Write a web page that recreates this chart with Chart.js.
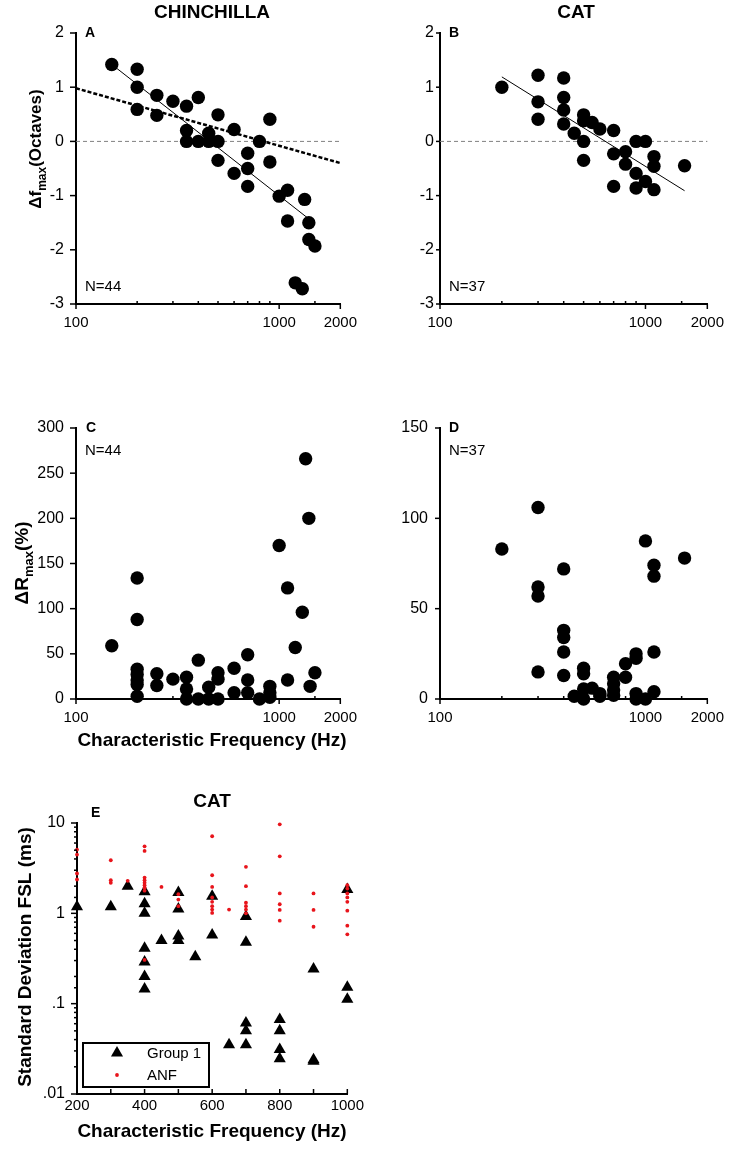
<!DOCTYPE html>
<html>
<head>
<meta charset="utf-8">
<script src="https://cdn.jsdelivr.net/npm/chart.js@4.4.0/dist/chart.umd.min.js"></script>
<style>
body{margin:0;background:#fff;width:734px;height:1151px;position:relative;overflow:hidden}
canvas{position:absolute}
</style>
</head>
<body>
<canvas id="cA" width="367" height="345" style="left:0;top:0"></canvas>
<canvas id="cB" width="367" height="345" style="left:367px;top:0"></canvas>
<canvas id="cC" width="367" height="405" style="left:0;top:345px"></canvas>
<canvas id="cD" width="367" height="405" style="left:367px;top:345px"></canvas>
<canvas id="cE" width="367" height="401" style="left:0;top:750px"></canvas>
<script>
const FONT = 'Arial, "Liberation Sans", sans-serif';
Chart.defaults.font.family = FONT;
Chart.defaults.color = '#000';

// A - chinchilla, shift of best frequency (octaves)
const freqA = [150,200,200,200,250,250,300,350,350,350,400,400,450,450,500,500,500,600,600,700,700,700,800,900,900,1000,1100,1100,1335,1400,1400,1500,1200,1300];
const dfA = [1.42,1.33,1.0,0.59,0.85,0.48,0.74,0.65,0.2,0,0.81,0,0.15,0,0.49,0,-0.35,0.22,-0.59,-0.22,-0.5,-0.83,0,0.41,-0.38,-1.01,-0.9,-1.47,-1.07,-1.5,-1.81,-1.93,-2.61,-2.72];
const fitAx = [150, 1400];
const fitAy = [1.42, -1.43];
const fitA2x = [100, 2000];
const fitA2y = [0.98, -0.40];

// B - cat
const freqB = [200,300,300,300,400,400,400,400,450,500,500,500,500,550,600,700,700,700,800,800,900,900,900,1000,1000,1100,1100,1100,1550];
const dfB = [1.0,1.22,0.73,0.41,1.17,0.81,0.58,0.32,0.15,0.49,0.38,0,-0.35,0.35,0.23,0.2,-0.23,-0.83,-0.19,-0.42,0,-0.59,-0.86,0,-0.74,-0.28,-0.46,-0.89,-0.45];
const fitBx = [200, 1550];
const fitBy = [1.19, -0.91];

const zeroX = [100, 2000];
const zeroY = [0, 0];

// C - chinchilla, change of max rate (%)
const freqC = [150,200,200,200,200,200,200,200,250,250,300,350,350,350,400,400,450,450,500,500,500,600,600,700,700,700,800,900,900,900,1000,1100,1100,1200,1300,1350,1400,1420,1500];
const rC = [59,134,88,33,27,21,16,3,28,15,22,24,11,0,43,0,13,0,29,22,0,34,7,49,21,7,0,14,7,2,170,123,21,57,96,266,200,14,29];

// D - cat
const freqD = [200,300,300,300,300,400,400,400,400,400,450,500,500,500,500,550,600,600,700,700,700,700,800,800,900,900,900,900,1000,1000,1100,1100,1100,1100,1550];
const rD = [83,106,62,57,15,72,38,34,26,13,1.5,17,14,5.5,0,6,3,1.5,12,8.5,5,2,19.5,12,25,22.5,3,0,87.5,0,74,68,26,4,78];

// E - cat, SD of first spike latency
const freqG1 = [200,300,350,400,400,400,400,400,400,400,450,500,500,500,500,550,600,600,650,700,700,700,700,700,800,800,800,800,900,900,900,1000,1000,1000];
const sdG1 = [1.18,1.18,2.0,1.73,1.28,1.0,0.41,0.29,0.2,0.145,0.5,1.7,1.12,0.56,0.5,0.33,1.55,0.575,0.035,0.92,0.48,0.061,0.05,0.035,0.067,0.05,0.031,0.0245,0.242,0.024,0.023,1.84,0.152,0.112];
const freqANF = [200,200,200,200,300,300,300,350,400,400,400,400,400,400,400,400,400,450,500,500,500,600,600,600,600,600,600,600,600,650,700,700,700,700,700,700,800,800,800,800,800,800,900,900,900,1000,1000,1000,1000,1000,1000,1000,1000];
const sdANF = [5.08,4.47,2.76,2.37,3.87,2.33,2.18,2.29,5.52,4.91,2.49,2.33,2.18,2.05,1.93,1.78,0.305,1.96,1.63,1.42,1.2,7.13,2.64,1.96,1.5,1.34,1.2,1.1,1.01,1.1,3.27,2.0,1.31,1.2,1.1,1.0,9.67,4.28,1.66,1.26,1.09,0.83,1.66,1.09,0.71,2.05,1.88,1.66,1.5,1.34,1.07,0.73,0.585];

// tick labels
const freqTickLabels = [100, 1000, 2000];
const cfTickLabels = [200, 400, 600, 800, 1000];
const sdTickValues = [0.01, 0.1, 1, 10];
const sdTickText = ['.01', '.1', '1', '10'];

const RED = '#e8141b';
const f = (size, bold) => (bold ? 'bold ' : '') + size + 'px ' + FONT;
const pts = (xs, ys) => xs.map((x, i) => ({x: x, y: ys[i]}));

function dots(xs, ys) {
  return {data: pts(xs, ys), pointRadius: 6.7, pointBackgroundColor: '#000', pointBorderWidth: 0,
    showLine: false, clip: false, order: 2};
}
function line(xs, ys, color, width, dash, order) {
  return {data: pts(xs, ys), showLine: true, pointRadius: 0, borderColor: color, borderWidth: width,
    borderDash: dash, order: order, clip: false};
}

// draws tick marks, labels, rotated axis titles and the legend box
const decor = {
  id: 'decor',
  afterDraw(chart, args, o) {
    const ctx = chart.ctx, a = chart.chartArea, xs = chart.scales.x, ys = chart.scales.y;
    ctx.save();
    ctx.strokeStyle = '#000';
    ctx.lineWidth = 1.5;
    xs.ticks.forEach(t => {
      const p = xs.getPixelForValue(t.value), len = t.label ? o.xTick[0] : o.xTick[1];
      ctx.beginPath(); ctx.moveTo(p, a.bottom); ctx.lineTo(p, a.bottom + len); ctx.stroke();
    });
    ys.ticks.forEach(t => {
      const p = ys.getPixelForValue(t.value), len = t.label ? o.yTick[0] : o.yTick[1];
      ctx.beginPath(); ctx.moveTo(a.left, p); ctx.lineTo(a.left - len, p); ctx.stroke();
    });
    ctx.fillStyle = '#000';
    ctx.textBaseline = 'middle';
    o.texts.forEach(t => {
      ctx.font = t.font;
      ctx.textAlign = t.align || 'left';
      ctx.fillText(t.text, t.x, t.y);
    });
    if (o.xTitle) {
      ctx.font = f(19, true);
      ctx.textAlign = 'center';
      ctx.textBaseline = 'alphabetic';
      ctx.fillText(o.xTitle.text, o.xTitle.x, o.xTitle.y);
    }
    if (o.yTitle) {
      const yt = o.yTitle;
      ctx.save();
      ctx.translate(yt.x, yt.y);
      ctx.rotate(-Math.PI / 2);
      ctx.textAlign = 'left';
      ctx.textBaseline = 'alphabetic';
      let total = 0;
      yt.parts.forEach(p => { ctx.font = f(p[1], true); total += ctx.measureText(p[0]).width; });
      let cx = -total / 2;
      yt.parts.forEach(p => {
        ctx.font = f(p[1], true);
        ctx.fillText(p[0], cx, p[2]);
        cx += ctx.measureText(p[0]).width;
      });
      ctx.restore();
    }
    if (o.legend) {
      const lg = o.legend;
      ctx.lineWidth = 2;
      ctx.strokeRect(lg.box[0], lg.box[1], lg.box[2], lg.box[3]);
      lg.rows.forEach(r => {
        const ds = chart.data.datasets[r.ds];
        ctx.fillStyle = ds.pointBackgroundColor;
        ctx.beginPath();
        if (ds.pointStyle === 'triangle') {
          let rad = 0;
          for (let k = 0; k < 3; k++) {
            const px = r.x + Math.sin(rad) * ds.pointRadius, py = r.y - Math.cos(rad) * ds.pointRadius;
            if (k === 0) ctx.moveTo(px, py); else ctx.lineTo(px, py);
            rad += Math.PI * 2 / 3;
          }
          ctx.closePath();
        } else {
          ctx.arc(r.x, r.y, ds.pointRadius, 0, Math.PI * 2);
        }
        ctx.fill();
        ctx.fillStyle = '#000';
        ctx.font = f(15);
        ctx.textAlign = 'left';
        ctx.textBaseline = 'middle';
        ctx.fillText(ds.label, lg.textX, r.y + 1);
      });
    }
    ctx.restore();
  }
};
Chart.register(decor);

const axisBorder = {display: true, color: '#000', width: 2};
const noGrid = {display: true, drawOnChartArea: false, drawTicks: false};

function freqAxis(height, pad) {
  return {type: 'logarithmic', min: 100, max: 2000, position: 'bottom', grid: noGrid, border: axisBorder,
    ticks: {autoSkip: false, maxRotation: 0, padding: pad, font: {size: 15}, color: '#000',
      callback: v => freqTickLabels.includes(v) ? String(v) : ''},
    afterFit: s => { s.height = height; }};
}
function linY(min, max, step, width, pad) {
  return {type: 'linear', min: min, max: max, grid: noGrid, border: axisBorder,
    ticks: {stepSize: step, padding: pad, font: {size: 16}, color: '#000', callback: v => String(v)},
    afterFit: s => { s.width = width; }};
}
function opts(top, right, x, y, decorOpts) {
  return {responsive: false, animation: false, events: [],
    layout: {padding: {top: top, right: right, left: 0, bottom: 0}},
    plugins: {legend: {display: false}, tooltip: {enabled: false}, decor: decorOpts},
    scales: {x: x, y: y}};
}

// A
new Chart(document.getElementById('cA'), {
  type: 'scatter',
  data: {datasets: [
    line(zeroX, zeroY, '#808080', 1, [4, 3], 3),
    dots(freqA, dfA),
    line(fitAx, fitAy, '#000', 1, [], 1),
    line(fitA2x, fitA2y, '#000', 2.5, [4, 2], 1)
  ]},
  options: opts(33, 18, freqAxis(41, 10), linY(-3, 2, 1, 76, 12), {
    xTick: [5, -3], yTick: [6, 6],
    texts: [
      {text: 'CHINCHILLA', x: 212, y: 13, font: f(19, true), align: 'center'},
      {text: 'A', x: 85, y: 33, font: f(14, true)},
      {text: 'N=44', x: 85, y: 287, font: f(15)}
    ],
    yTitle: {x: 41, y: 149, parts: [['\u0394f', 17, 0], ['max', 12, 5], ['(Octaves)', 17, 0]]}
  })
});

// B
new Chart(document.getElementById('cB'), {
  type: 'scatter',
  data: {datasets: [
    line(zeroX, zeroY, '#808080', 1, [4, 3], 3),
    dots(freqB, dfB),
    line(fitBx, fitBy, '#000', 1, [], 1)
  ]},
  options: opts(33, 22, freqAxis(41, 10), linY(-3, 2, 1, 73, 6), {
    xTick: [5, -3], yTick: [4, 4],
    texts: [
      {text: 'CAT', x: 209, y: 13, font: f(19, true), align: 'center'},
      {text: 'B', x: 82, y: 33, font: f(14, true)},
      {text: 'N=37', x: 82, y: 287, font: f(15)}
    ]
  })
});

// C
new Chart(document.getElementById('cC'), {
  type: 'scatter',
  data: {datasets: [dots(freqC, rC)]},
  options: opts(83, 18, freqAxis(51, 10), linY(0, 300, 50, 76, 12), {
    xTick: [5, -3], yTick: [6, 6],
    texts: [
      {text: 'C', x: 86, y: 83, font: f(14, true)},
      {text: 'N=44', x: 85, y: 106, font: f(15)}
    ],
    xTitle: {text: 'Characteristic Frequency (Hz)', x: 212, y: 401},
    yTitle: {x: 28, y: 218, parts: [['\u0394R', 19, 0], ['max', 13, 5], ['(%)', 19, 0]]}
  })
});

// D
new Chart(document.getElementById('cD'), {
  type: 'scatter',
  data: {datasets: [dots(freqD, rD)]},
  options: opts(83, 22, freqAxis(51, 10), linY(0, 150, 50, 73, 12), {
    xTick: [5, -3], yTick: [5, 5],
    texts: [
      {text: 'D', x: 82, y: 83, font: f(14, true)},
      {text: 'N=37', x: 82, y: 106, font: f(15)}
    ]
  })
});

// E
new Chart(document.getElementById('cE'), {
  type: 'scatter',
  data: {datasets: [
    {label: 'ANF', data: pts(freqANF, sdANF), pointRadius: 1.9, pointBackgroundColor: RED, pointBorderWidth: 0,
      pointStyle: 'circle', clip: false, order: 1},
    {label: 'Group 1', data: pts(freqG1, sdG1), pointRadius: 7, pointBackgroundColor: '#000', pointBorderWidth: 0,
      pointStyle: 'triangle', clip: false, order: 2}
  ]},
  options: opts(73, 19,
    {type: 'linear', min: 200, max: 1000, position: 'bottom', grid: noGrid, border: axisBorder,
      ticks: {stepSize: 100, autoSkip: false, maxRotation: 0, padding: 3, font: {size: 15}, color: '#000',
        callback: v => cfTickLabels.includes(v) ? String(v) : ''},
      afterFit: s => { s.height = 57; }},
    {type: 'logarithmic', min: 0.01, max: 10, grid: noGrid, border: axisBorder,
      ticks: {autoSkip: false, padding: 12, font: {size: 16}, color: '#000',
        callback: v => {
          const i = sdTickValues.findIndex(t => Math.abs(t - v) / t < 1e-6);
          return i >= 0 ? sdTickText[i] : '';
        }},
      afterFit: s => { s.width = 77; }},
    {
      xTick: [-5, -5], yTick: [6, 3],
      texts: [
        {text: 'CAT', x: 212, y: 52, font: f(19, true), align: 'center'},
        {text: 'E', x: 91, y: 63, font: f(14, true)}
      ],
      xTitle: {text: 'Characteristic Frequency (Hz)', x: 212, y: 387},
      yTitle: {x: 31, y: 207, parts: [['Standard Deviation FSL (ms)', 19, 0]]},
      legend: {box: [83, 293, 126, 44], textX: 147, rows: [{ds: 1, x: 117, y: 303}, {ds: 0, x: 117, y: 325}]}
    })
});
</script>
</body>
</html>
